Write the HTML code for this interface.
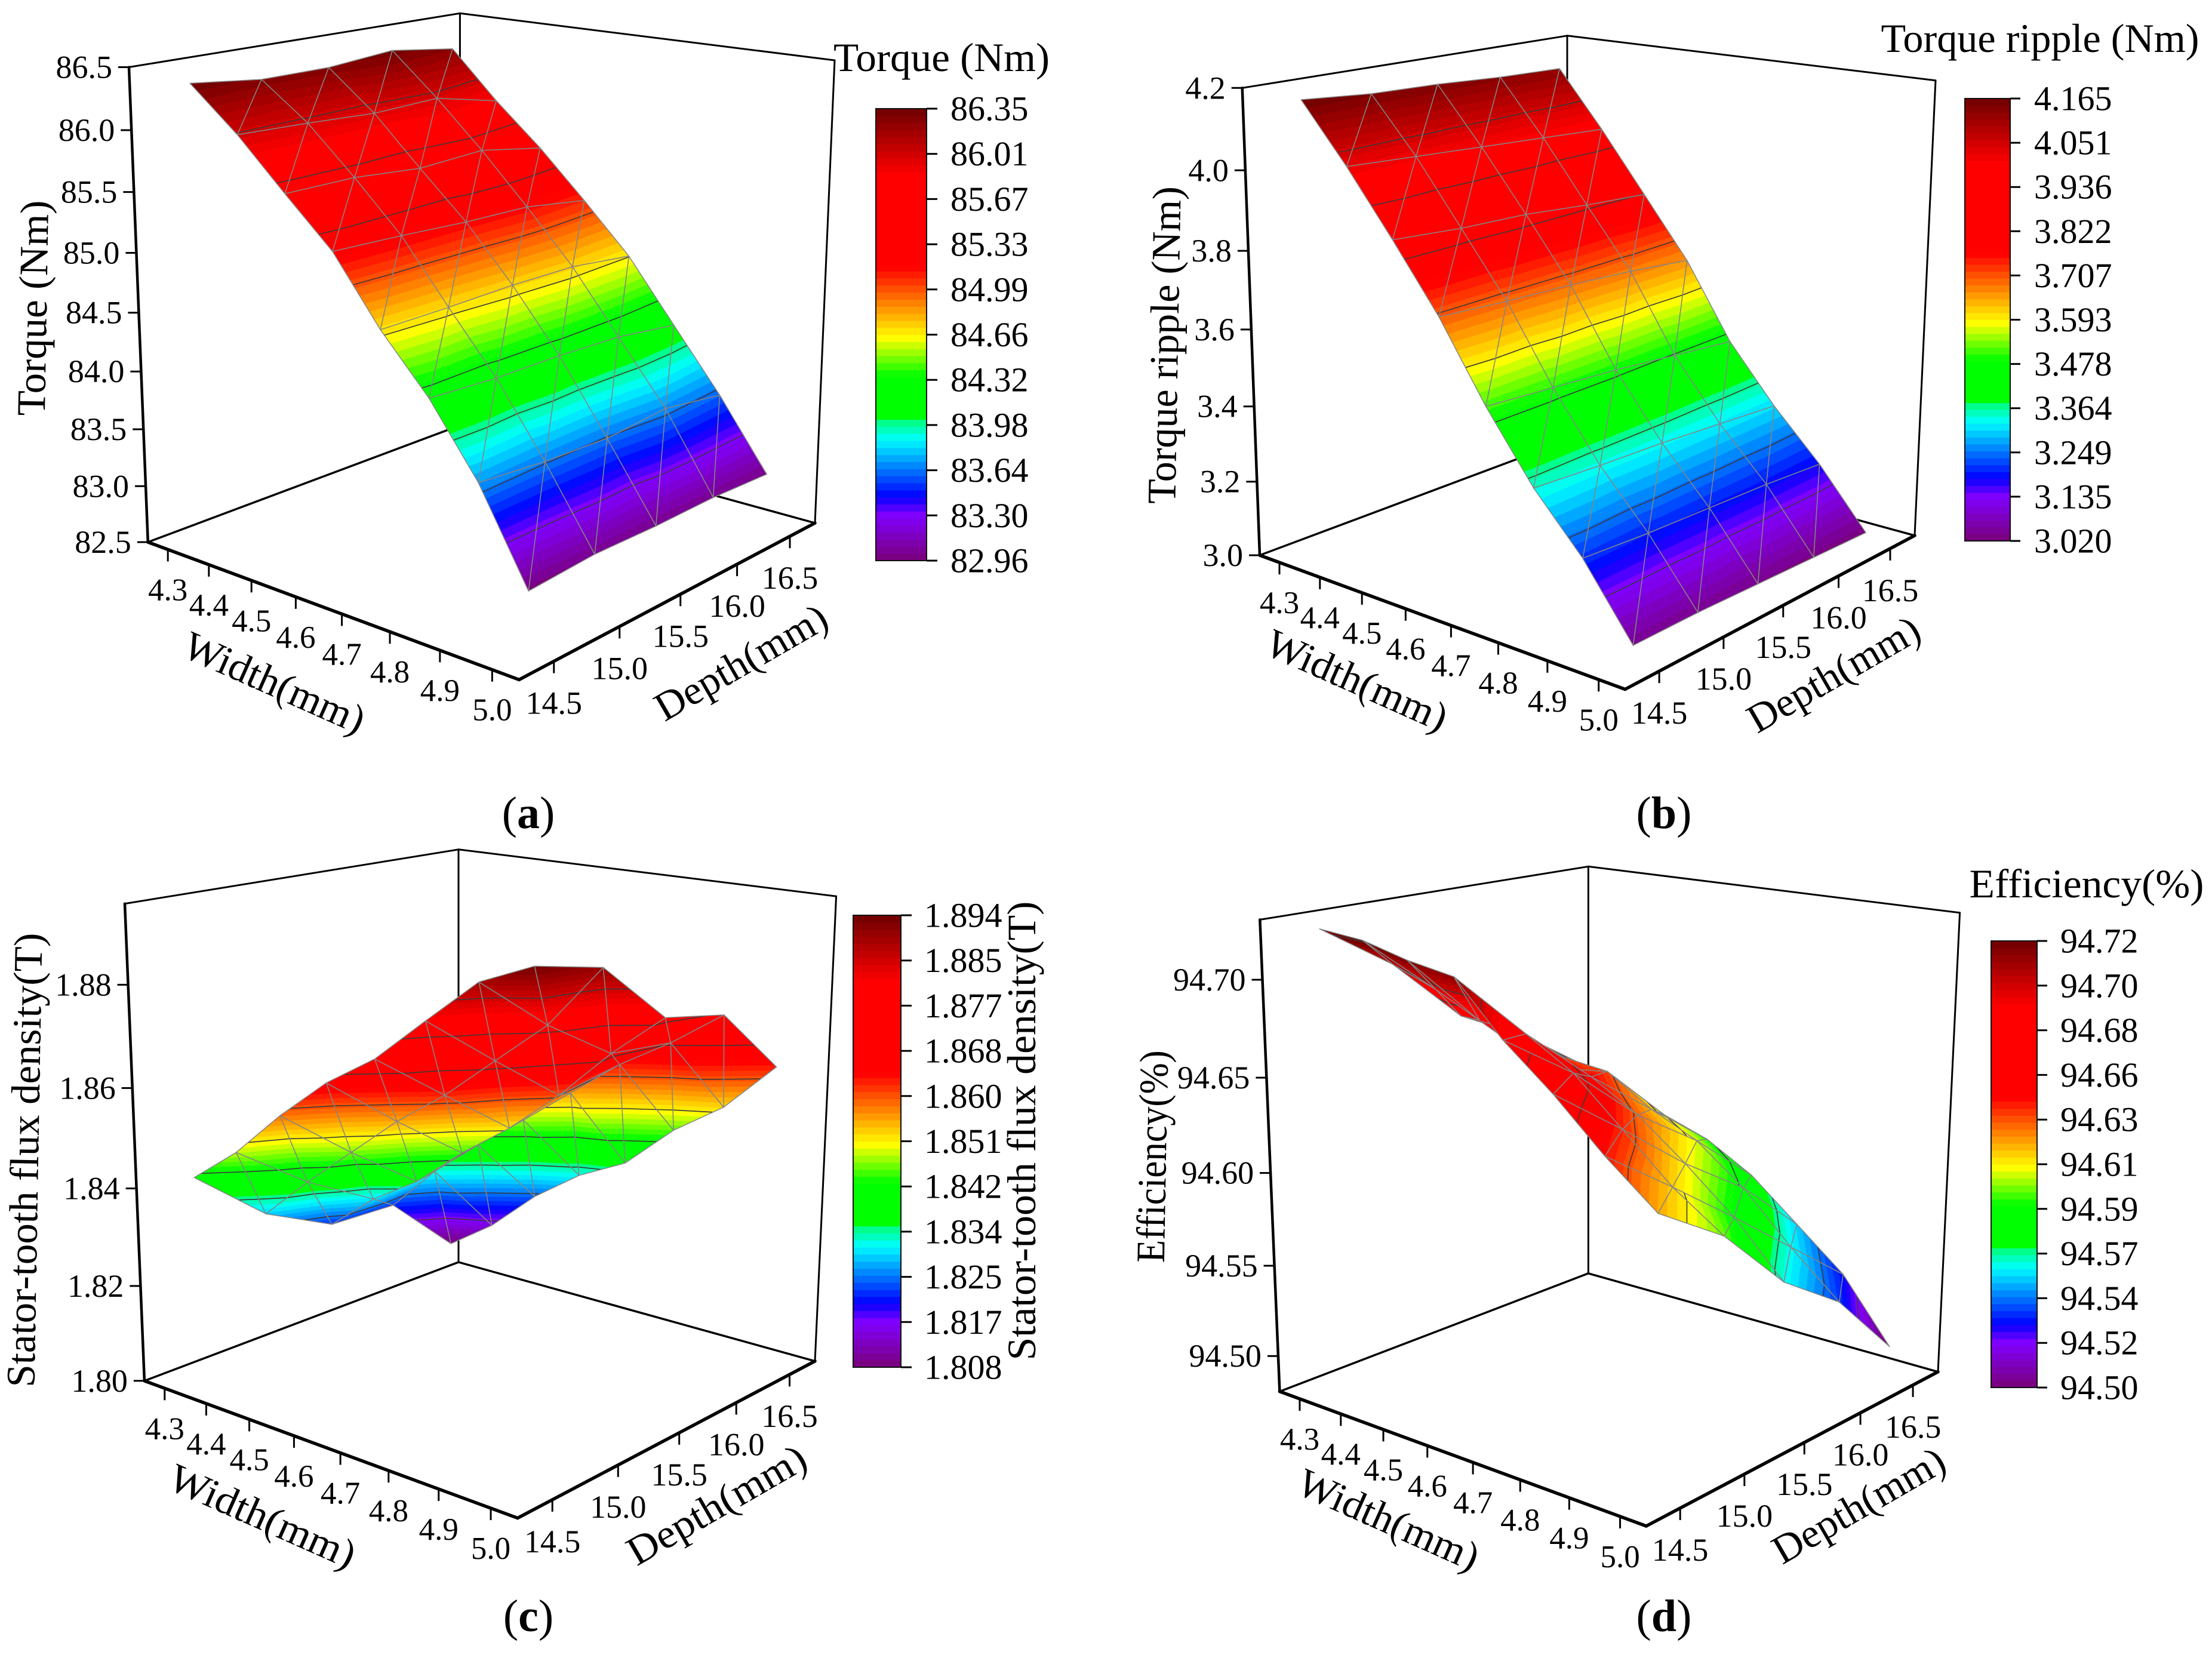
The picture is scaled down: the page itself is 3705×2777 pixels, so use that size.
<!DOCTYPE html>
<html lang="en">
<head>
<meta charset="utf-8">
<title>Torque, ripple, flux density and efficiency surfaces</title>
<style>
html,body{margin:0;padding:0;background:#fff;}
svg{display:block;}
text{font-family:"Liberation Serif",serif;fill:#000;}
.title{font-size:68px;text-anchor:middle;dominant-baseline:central;}
.cap{font-size:76px;text-anchor:middle;dominant-baseline:central;}
.cap tspan{font-weight:bold;}
</style>
</head>
<body>
<svg id="figure" xmlns="http://www.w3.org/2000/svg" width="3705" height="2777" viewBox="0 0 3705 2777">
<rect width="3705" height="2777" fill="#fff"/>

<g id="panel-a"></g>
<g>
<text class="title" x="1577" y="96" textLength="362" lengthAdjust="spacingAndGlyphs">Torque (Nm)</text>
<text class="title" transform="translate(55 516) rotate(-89)" textLength="361" lengthAdjust="spacingAndGlyphs">Torque (Nm)</text>
<text class="title" transform="translate(460 1143) rotate(24)" textLength="325" lengthAdjust="spacingAndGlyphs">Width(mm)</text>
<text class="title" transform="translate(1241 1109) rotate(-30)" textLength="322" lengthAdjust="spacingAndGlyphs">Depth(mm)</text>
<text class="cap" x="885" y="1362">(<tspan>a</tspan>)</text>
</g>

<g id="panel-b"></g>
<g>
<text class="title" x="3417" y="64" textLength="533" lengthAdjust="spacingAndGlyphs">Torque ripple (Nm)</text>
<text class="title" transform="translate(1950 578) rotate(-89)" textLength="532" lengthAdjust="spacingAndGlyphs">Torque ripple (Nm)</text>
<text class="title" transform="translate(2273 1139) rotate(24)" textLength="325" lengthAdjust="spacingAndGlyphs">Width(mm)</text>
<text class="title" transform="translate(3071 1129) rotate(-30)" textLength="322" lengthAdjust="spacingAndGlyphs">Depth(mm)</text>
<text class="cap" x="2787" y="1362">(<tspan>b</tspan>)</text>
</g>

<g id="panel-c"></g>
<g>
<text class="title" transform="translate(1711 1894) rotate(-90)" textLength="769" lengthAdjust="spacingAndGlyphs">Stator-tooth flux density(T)</text>
<text class="title" transform="translate(41 1943) rotate(-89)" textLength="761" lengthAdjust="spacingAndGlyphs">Stator-tooth flux density(T)</text>
<text class="title" transform="translate(440 2539) rotate(24)" textLength="335" lengthAdjust="spacingAndGlyphs">Width(mm)</text>
<text class="title" transform="translate(1200 2520) rotate(-30)" textLength="335" lengthAdjust="spacingAndGlyphs">Depth(mm)</text>
<text class="cap" x="885" y="2707">(<tspan>c</tspan>)</text>
</g>

<g id="panel-d"></g>
<g>
<text class="title" x="3495" y="1480" textLength="393" lengthAdjust="spacingAndGlyphs">Efficiency(%)</text>
<text class="title" transform="translate(1930 1937) rotate(-89)" textLength="356" lengthAdjust="spacingAndGlyphs">Efficiency(%)</text>
<text class="title" transform="translate(2326 2545) rotate(24)" textLength="325" lengthAdjust="spacingAndGlyphs">Width(mm)</text>
<text class="title" transform="translate(3113 2521) rotate(-30)" textLength="322" lengthAdjust="spacingAndGlyphs">Depth(mm)</text>
<text class="cap" x="2787" y="2707">(<tspan>d</tspan>)</text>
</g>
</svg>

<script>
// ---- shared grid values (rows: width, columns: depth) ----
const widthValues = [4.3, 4.4, 4.5, 4.6, 4.7, 4.8, 4.9, 5.0];
const depthValues = [14.5, 15.0, 15.5, 16.0, 16.5];
const widthTickLabels = ["4.3", "4.4", "4.5", "4.6", "4.7", "4.8", "4.9", "5.0"];
const depthTickLabels = ["14.5", "15.0", "15.5", "16.0", "16.5"];

// ---- (a) torque ----
const torqueValues = [
  [86.35, 86.28, 86.28, 86.33, 86.25],
  [86.00, 85.98, 85.95, 85.97, 85.84],
  [85.60, 85.60, 85.55, 85.58, 85.48],
  [85.22, 85.20, 85.17, 85.16, 85.08],
  [84.69, 84.70, 84.72, 84.72, 84.66],
  [84.25, 84.22, 84.22, 84.20, 84.13],
  [83.70, 83.65, 83.63, 83.68, 83.60],
  [82.98, 83.02, 83.01, 83.02, 83.00]
];
const torqueZTicks = [82.5, 83.0, 83.5, 84.0, 84.5, 85.0, 85.5, 86.0, 86.5];
const torqueZLabels = ["82.5", "83.0", "83.5", "84.0", "84.5", "85.0", "85.5", "86.0", "86.5"];
const torqueBarLabels = ["86.35", "86.01", "85.67", "85.33", "84.99", "84.66", "84.32", "83.98", "83.64", "83.30", "82.96"];

// ---- (b) torque ripple ----
const rippleValues = [
  [4.165, 4.150, 4.145, 4.135, 4.130],
  [4.020, 4.010, 4.000, 3.990, 3.980],
  [3.863, 3.850, 3.845, 3.830, 3.820],
  [3.700, 3.690, 3.685, 3.675, 3.660],
  [3.510, 3.500, 3.490, 3.475, 3.460],
  [3.344, 3.335, 3.330, 3.320, 3.310],
  [3.210, 3.200, 3.195, 3.190, 3.180],
  [3.040, 3.040, 3.035, 3.030, 3.025]
];
const rippleZTicks = [3.0, 3.2, 3.4, 3.6, 3.8, 4.0, 4.2];
const rippleZLabels = ["3.0", "3.2", "3.4", "3.6", "3.8", "4.0", "4.2"];
const rippleBarLabels = ["4.165", "4.051", "3.936", "3.822", "3.707", "3.593", "3.478", "3.364", "3.249", "3.135", "3.020"];

// ---- (c) stator-tooth flux density ----
const fluxValues = [
  [1.8412, 1.8292, 1.8223, 1.8220, 1.8083],
  [1.8485, 1.8383, 1.8303, 1.8320, 1.8152],
  [1.8578, 1.8466, 1.8364, 1.8400, 1.8243],
  [1.8660, 1.8549, 1.8446, 1.8475, 1.8314],
  [1.8723, 1.8620, 1.8518, 1.8551, 1.8364],
  [1.8809, 1.8704, 1.8603, 1.8628, 1.8456],
  [1.8893, 1.8787, 1.8702, 1.8689, 1.8525],
  [1.8935, 1.8905, 1.8786, 1.8760, 1.8626]
];
const fluxZTicks = [1.80, 1.82, 1.84, 1.86, 1.88];
const fluxZLabels = ["1.80", "1.82", "1.84", "1.86", "1.88"];
const fluxBarLabels = ["1.894", "1.885", "1.877", "1.868", "1.860", "1.851", "1.842", "1.834", "1.825", "1.817", "1.808"];

// ---- (d) efficiency ----
const efficiencyValues = [
  [94.724, 94.699, 94.664, 94.645, 94.620],
  [94.722, 94.690, 94.663, 94.637, 94.610],
  [94.716, 94.678, 94.645, 94.634, 94.600],
  [94.712, 94.676, 94.645, 94.618, 94.591],
  [94.686, 94.661, 94.630, 94.606, 94.576],
  [94.665, 94.638, 94.610, 94.586, 94.554],
  [94.641, 94.615, 94.588, 94.560, 94.532],
  [94.620, 94.597, 94.561, 94.537, 94.498]
];
const efficiencyZTicks = [94.50, 94.55, 94.60, 94.65, 94.70];
const efficiencyZLabels = ["94.50", "94.55", "94.60", "94.65", "94.70"];
const efficiencyBarLabels = ["94.72", "94.70", "94.68", "94.66", "94.63", "94.61", "94.59", "94.57", "94.54", "94.52", "94.50"];

// ---- layout of each panel (screen geometry, not data) ----
const layoutA = {id:"panel-a", prefix:"torque",
  L:[247.8,908], F:[869.5,1138.4], R:[1365,876], B:[770.4,712.5],
  TL:[216,112.5], TB:[770.4,22.3], TR:[1398,101],
  zRange:[82.5,86.5], barRange:[82.96,86.35],
  bar:{x0:1467,x1:1552,y0:182,y1:939,tick:1570,label:1592}};
const layoutB = {id:"panel-b", prefix:"ripple",
  L:[2110,930], F:[2722,1154.5], R:[3207,897], B:[2625,737.5],
  TL:[2080.7,147.3], TB:[2625,59.8], TR:[3242,134.8],
  zRange:[3.0,4.2], barRange:[3.02,4.165],
  bar:{x0:3291,x1:3367,y0:165,y1:906,tick:3384,label:3407}};
const layoutC = {id:"panel-c", prefix:"flux",
  L:[241.9,2312.8], F:[867,2542.6], R:[1365,2279.8], B:[768,2114],
  TL:[209,1513.6], TB:[768,1422.8], TR:[1400.6,1501.2],
  zRange:[1.80,1.8953], barRange:[1.808,1.894],
  bar:{x0:1429,x1:1509,y0:1533,y1:2290,tick:1527,label:1548}};
const layoutD = {id:"panel-d", prefix:"efficiency",
  L:[2143.4,2330.6], F:[2757.4,2556], R:[3246,2297.7], B:[2660.4,2132.8],
  TL:[2110.3,1540.4], TB:[2660.4,1451.3], TR:[3282.6,1528.8],
  zRange:[94.48,94.73], barRange:[94.50,94.72],
  bar:{x0:3335,x1:3412,y0:1576,y1:2324,tick:3429,label:3451}};

const WIDTH_DOMAIN = [4.25, 5.05];
const DEPTH_DOMAIN = [14.25, 16.75];
const Z_PERSPECTIVE = 1.07;
const BANDS = 64;
const SVG_NS = "http://www.w3.org/2000/svg";

// rainbow colour ramp, position 0 = bottom of the colour bar
const rampStops = [
  [0.000,[122,0,120]],[0.101,[128,0,255]],[0.143,[0,0,255]],[0.269,[0,255,255]],
  [0.3089,[0,255,128]],[0.3091,[0,255,0]],[0.409,[0,255,0]],[0.493,[255,255,0]],
  [0.650,[255,0,0]],[0.853,[255,0,0]],[1.000,[110,0,0]]
];
function rampColor(t){
  t = Math.max(0, Math.min(1, t));
  for (let k = 1; k < rampStops.length; k++){
    if (t <= rampStops[k][0]){
      const a = rampStops[k-1], b = rampStops[k];
      const f = (t - a[0]) / (b[0] - a[0]);
      const c = a[1].map((v, n) => Math.round(v + (b[1][n] - v) * f));
      return "rgb(" + c.join(",") + ")";
    }
  }
  return "rgb(110,0,0)";
}
function bandColor(k){ return rampColor((k + 0.5) / BANDS); }

function svgNode(tag, parent, attrs){
  const node = document.createElementNS(SVG_NS, tag);
  for (const key in attrs) node.setAttribute(key, attrs[key]);
  parent.appendChild(node);
  return node;
}

// homography from the unit square to a quad
function squareToQuad(p0, p1, p2, p3){
  const dx1 = p1[0]-p2[0], dx2 = p3[0]-p2[0], sx = p0[0]-p1[0]+p2[0]-p3[0];
  const dy1 = p1[1]-p2[1], dy2 = p3[1]-p2[1], sy = p0[1]-p1[1]+p2[1]-p3[1];
  const den = dx1*dy2 - dx2*dy1;
  const g = (sx*dy2 - dx2*sy)/den, h = (dx1*sy - sx*dy1)/den;
  const a = p1[0]-p0[0]+g*p1[0], b = p3[0]-p0[0]+h*p3[0], c = p0[0];
  const d = p1[1]-p0[1]+g*p1[1], e = p3[1]-p0[1]+h*p3[1], f = p0[1];
  return (u, v) => {
    const w = g*u + h*v + 1;
    return [(a*u + b*v + c)/w, (d*u + e*v + f)/w];
  };
}
function cross(a, b){ return [a[1]*b[2]-a[2]*b[1], a[2]*b[0]-a[0]*b[2], a[0]*b[1]-a[1]*b[0]]; }
function homog(p){ return [p[0], p[1], 1]; }
function lineThrough(a, b){ return cross(a.length === 3 ? a : homog(a), b.length === 3 ? b : homog(b)); }

function makeProjection(lay){
  const vp1 = cross(lineThrough(lay.L, lay.F), lineThrough(lay.B, lay.R));
  const vp2 = cross(lineThrough(lay.L, lay.B), lineThrough(lay.F, lay.R));
  const tf = cross(lineThrough(lay.TL, vp1), lineThrough(lay.TR, vp2));
  const TF = [tf[0]/tf[2], tf[1]/tf[2]];
  const floor = squareToQuad(lay.L, lay.F, lay.R, lay.B);
  const top = squareToQuad(lay.TL, TF, lay.TR, lay.TB);
  const widthAxis = w => (w - WIDTH_DOMAIN[0]) / (WIDTH_DOMAIN[1] - WIDTH_DOMAIN[0]);
  const depthAxis = d => (d - DEPTH_DOMAIN[0]) / (DEPTH_DOMAIN[1] - DEPTH_DOMAIN[0]);
  const zAxis = z => {
    const t = (z - lay.zRange[0]) / (lay.zRange[1] - lay.zRange[0]);
    return t / (t + Z_PERSPECTIVE * (1 - t));
  };
  return (w, d, z) => {
    const u = widthAxis(w), v = depthAxis(d), s = zAxis(z);
    const a = floor(u, v), b = top(u, v);
    return [a[0] + (b[0]-a[0])*s, a[1] + (b[1]-a[1])*s];
  };
}

function clipBand(tri, lo, hi){
  let poly = tri;
  const clip = (pts, keep, level) => {
    const out = [];
    for (let n = 0; n < pts.length; n++){
      const a = pts[n], b = pts[(n+1) % pts.length];
      const ina = keep(a[2]), inb = keep(b[2]);
      if (ina) out.push(a);
      if (ina !== inb){
        const f = (level - a[2]) / (b[2] - a[2]);
        out.push([a[0]+(b[0]-a[0])*f, a[1]+(b[1]-a[1])*f, level]);
      }
    }
    return out;
  };
  if (isFinite(lo)) poly = clip(poly, z => z >= lo, lo);
  if (poly.length && isFinite(hi)) poly = clip(poly, z => z <= hi, hi);
  return poly;
}
function pointsAttr(pts){ return pts.map(p => p[0].toFixed(1) + "," + p[1].toFixed(1)).join(" "); }

function drawTriangle(group, tri, barRange, levels){
  const span = barRange[1] - barRange[0];
  const zs = tri.map(p => p[2]);
  const zMin = Math.min(...zs), zMax = Math.max(...zs);
  for (let k = 0; k < BANDS; k++){
    const lo = k === 0 ? -Infinity : barRange[0] + span * k / BANDS;
    const hi = k === BANDS-1 ? Infinity : barRange[0] + span * (k+1) / BANDS;
    if (hi < zMin || lo > zMax) continue;
    const poly = clipBand(tri, lo, hi);
    if (poly.length < 3) continue;
    const col = bandColor(k);
    const el = svgNode("polygon", group, {points: pointsAttr(poly), fill: col, stroke: col, "stroke-width": 0.8});
    
    
  }
  levels.forEach(level => {
    const hits = [];
    for (let n = 0; n < 3; n++){
      const a = tri[n], b = tri[(n+1)%3];
      if ((a[2] - level) * (b[2] - level) < 0){
        const f = (level - a[2]) / (b[2] - a[2]);
        hits.push([a[0]+(b[0]-a[0])*f, a[1]+(b[1]-a[1])*f]);
      }
    }
    if (hits.length === 2){
      const el = svgNode("line", group, {x1: hits[0][0].toFixed(1), y1: hits[0][1].toFixed(1), x2: hits[1][0].toFixed(1), y2: hits[1][1].toFixed(1), stroke: "#3a3a3a", "stroke-width": 1.6});
      
      
    }
  });
  const mesh = svgNode("polygon", group, {points: pointsAttr(tri), fill: "none", stroke: "#858585", "stroke-width": 1.5, "stroke-linejoin": "round"});
  
  
}

function axisLine(group, a, b, width){
  const el = svgNode("line", group, {x1: a[0], y1: a[1], x2: b[0], y2: b[1], stroke: "#000", "stroke-width": width, "stroke-linecap": "round"});
  
  
}
function tickMark(group, a, b){
  const el = svgNode("line", group, {x1: a[0], y1: a[1], x2: b[0], y2: b[1], stroke: "#000", "stroke-width": 3});
  
  
}
function tickLabel(group, x, y, text, size, anchor){
  const el = svgNode("text", group, {x: x, y: y, "font-size": size, "text-anchor": anchor, "dominant-baseline": "central"});
  
  
  el.textContent = text;
}

function drawPanel(lay, grid, zTicks, zLabels, barLabels){
  const group = document.getElementById(lay.id);
  const project = makeProjection(lay);
  const wLo = WIDTH_DOMAIN[0], wHi = WIDTH_DOMAIN[1], dLo = DEPTH_DOMAIN[0], dHi = DEPTH_DOMAIN[1];
  const zLo = lay.zRange[0], zHi = lay.zRange[1];

  // box
  const box = svgNode("g", group, {});
  
  
  axisLine(box, lay.TL, lay.TB, 3);
  axisLine(box, lay.TB, lay.TR, 3);
  axisLine(box, lay.TB, lay.B, 3);
  axisLine(box, lay.TR, lay.R, 3);
  axisLine(box, lay.L, lay.B, 3.5);
  axisLine(box, lay.B, lay.R, 3.5);
  axisLine(box, lay.TL, lay.L, 4.5);
  axisLine(box, lay.L, lay.F, 5.5);
  axisLine(box, lay.F, lay.R, 5.5);

  // surface, far cells first
  const surface = svgNode("g", group, {});
  
  
  const levels = barLabels.map((_, k) => lay.barRange[0] + (lay.barRange[1]-lay.barRange[0]) * k / (barLabels.length-1));
  const node = (i, j) => {
    const p = project(widthValues[i], depthValues[j], grid[i][j]);
    return [p[0], p[1], grid[i][j]];
  };
  for (let i = 0; i < widthValues.length-1; i++){
    for (let j = depthValues.length-2; j >= 0; j--){
      const a = node(i,j), b = node(i,j+1), c = node(i+1,j), d = node(i+1,j+1);
      drawTriangle(surface, [a,b,c], lay.barRange, levels);
      drawTriangle(surface, [b,d,c], lay.barRange, levels);
    }
  }

  // z axis
  const zAxisGroup = svgNode("g", group, {});
  
  
  zTicks.forEach((z, k) => {
    const p = project(wLo, dLo, z);
    tickMark(zAxisGroup, [p[0]-18, p[1]], p);
    tickLabel(zAxisGroup, p[0]-28, p[1], zLabels[k], 54, "end");
  });

  // width axis
  const widthGroup = svgNode("g", group, {});
  
  
  widthValues.forEach((w, k) => {
    const p = project(w, dLo, zLo);
    tickMark(widthGroup, p, [p[0], p[1]+20]);
    tickLabel(widthGroup, p[0], p[1]+68, widthTickLabels[k], 53, "middle");
  });

  // depth axis
  const depthGroup = svgNode("g", group, {});
  
  
  depthValues.forEach((d, k) => {
    const p = project(wHi, d, zLo);
    tickMark(depthGroup, p, [p[0], p[1]+20]);
    tickLabel(depthGroup, p[0], p[1]+70, depthTickLabels[k], 54, "middle");
  });

  // colour bar
  const bar = lay.bar;
  const barGroup = svgNode("g", group, {});
  
  
  const barH = bar.y1 - bar.y0;
  for (let k = 0; k < BANDS; k++){
    const yTop = bar.y1 - barH * (k+1) / BANDS;
    const el = svgNode("rect", barGroup, {x: bar.x0, y: yTop.toFixed(2), width: bar.x1-bar.x0, height: (barH/BANDS + 0.6).toFixed(2), fill: bandColor(k)});
    
    
  }
  const frame = svgNode("rect", barGroup, {x: bar.x0, y: bar.y0, width: bar.x1-bar.x0, height: barH, fill: "none", stroke: "#111", "stroke-width": 2});
  
  
  barLabels.forEach((label, k) => {
    const y = bar.y0 + barH * k / (barLabels.length-1);
    tickMark(barGroup, [bar.x1, y], [bar.tick, y]);
    tickLabel(barGroup, bar.label, y, label, 58, "start");
  });
}

drawPanel(layoutA, torqueValues, torqueZTicks, torqueZLabels, torqueBarLabels);
drawPanel(layoutB, rippleValues, rippleZTicks, rippleZLabels, rippleBarLabels);
drawPanel(layoutC, fluxValues, fluxZTicks, fluxZLabels, fluxBarLabels);
drawPanel(layoutD, efficiencyValues, efficiencyZTicks, efficiencyZLabels, efficiencyBarLabels);
</script>
</body>
</html>
